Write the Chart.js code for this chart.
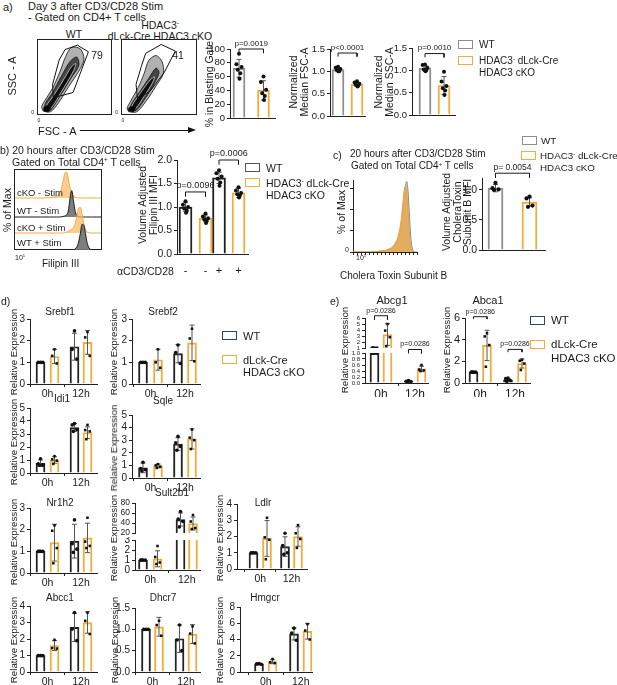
<!DOCTYPE html>
<html>
<head>
<meta charset="utf-8">
<script src="https://cdn.jsdelivr.net/npm/chart.js@4.4.1/dist/chart.umd.min.js"></script>
<style>
  body { margin: 0; background: #fff; }
  #fig { position: relative; width: 617px; height: 685px; overflow: hidden; font-family: "Liberation Sans", Arial, sans-serif; color: #1a1a1a; }
  .t { position: absolute; white-space: nowrap; line-height: 1; }
  canvas { position: absolute; }
  .box { position: absolute; box-sizing: border-box; }
  sup { font-size: 0.6em; vertical-align: 0.55em; line-height: 0; }
</style>
</head>
<body>
<div id="fig"></div>
<script>
// ---------- data ----------
// a) day 3, CD4 T cells
const aGroups = ['WT', 'HDAC3 cKO'];
const gatePct = ['79', '41'];
const blastMean = [72, 40];
const blastSd = [13, 14];
const blastPts = [[93, 78, 74, 70, 65, 57], [60, 52, 41, 36, 32, 26]];
const fscMean = [1.04, 0.71];
const fscSd = [0.05, 0.04];
const fscPts = [[1.10, 1.08, 1.05, 1.03, 1.00, 1.00], [0.78, 0.75, 0.72, 0.70, 0.68, 0.66]];
const sscMean = [1.05, 0.66];
const sscSd = [0.06, 0.20];
const sscPts = [[1.13, 1.12, 1.06, 1.02, 1.00, 0.98], [0.97, 0.75, 0.65, 0.60, 0.55, 0.45]];

// contour plots (FSC-A x, SSC-A y, 0-100 of the plot)
const wtGate = [[37, 87], [54, 93], [69, 84], [48, 29], [21, 22], [20, 40], [29, 73], [37, 87]];
const koGate = [[32, 82], [53, 94], [72, 85], [57, 56], [38, 31], [21, 20], [19, 40], [26, 64], [32, 82]];
const wtContours = [
  [[7, 4], [17, 3], [28, 15], [42, 37], [56, 58], [63, 74], [58, 88], [46, 90], [38, 78], [30, 57], [20, 35], [10, 19], [5, 10], [7, 4]],
  [[9, 5], [17, 5], [30, 24], [45, 48], [56, 66], [53, 77], [44, 71], [32, 51], [20, 29], [10, 14], [9, 5]],
  [[11, 6], [18, 8], [32, 30], [47, 55], [52, 68], [46, 64], [33, 43], [20, 23], [12, 12], [11, 6]],
  [[8, 4], [14, 3], [17, 8], [13, 11], [8, 9], [8, 4]]
];
const koContours = [
  [[9, 3], [20, 3], [33, 18], [46, 38], [56, 55], [54, 71], [46, 79], [36, 72], [30, 55], [22, 36], [12, 18], [7, 8], [9, 3]],
  [[10, 5], [19, 5], [32, 22], [44, 42], [50, 56], [46, 62], [36, 48], [24, 30], [13, 14], [10, 5]],
  [[11, 6], [18, 7], [30, 24], [40, 40], [44, 50], [38, 46], [26, 30], [15, 14], [11, 6]],
  [[9, 4], [15, 3], [18, 8], [13, 10], [9, 8], [9, 4]]
];

// b) Filipin III histograms (% of max) and MFI bars
const filipinX = [0, 30, 40, 45, 48, 50, 52, 54, 56, 58, 60, 62, 64, 66, 68, 70, 72, 74, 76, 78, 80, 82, 84, 86, 88, 90, 95, 100];
const filipinRows = ['cKO - Stim', 'WT - Stim', 'cKO + Stim', 'WT + Stim'];
const koMinus = [0, 0, 1, 3, 6, 10, 18, 35, 65, 92, 96, 70, 38, 18, 8, 3, 1, 0, 0, 0, 0, 0, 0, 0, 0, 0, 0, 0];
const wtMinus = [0, 0, 0, 0, 0, 0, 0, 1, 2, 4, 8, 22, 70, 98, 60, 20, 6, 2, 0, 0, 0, 0, 0, 0, 0, 0, 0, 0];
const koPlus = [0, 0, 0, 0, 0, 0, 0, 0, 0, 1, 3, 6, 10, 14, 20, 35, 62, 92, 95, 70, 35, 12, 4, 1, 0, 0, 0, 0];
const wtPlus = [0, 0, 0, 0, 0, 0, 0, 0, 0, 0, 0, 0, 0, 0, 1, 4, 12, 30, 62, 95, 92, 60, 25, 8, 2, 0, 0, 0];
const filipinStim = ['-', '-', '+', '+'];
const filipinMean = [1.00, 0.76, 1.62, 1.30];
const filipinSd = [0.09, 0.07, 0.12, 0.10];
const filipinPts = [[1.12, 1.05, 1.00, 0.97, 0.92, 0.88], [0.86, 0.80, 0.76, 0.74, 0.70, 0.66],
                    [1.78, 1.72, 1.65, 1.60, 1.52, 1.45], [1.42, 1.35, 1.30, 1.27, 1.24, 1.20]];

// c) Cholera toxin B
const ctbX = [0, 30, 40, 50, 55, 60, 64, 68, 70, 72, 74, 76, 78, 80, 82, 84, 86, 88, 90, 92, 94, 96, 100];
const ctbWT = [0, 0, 1, 2, 3, 5, 8, 13, 17, 23, 31, 42, 58, 76, 94, 100, 86, 56, 24, 8, 2, 0, 0];
const ctbKO = [0, 0, 1, 2, 4, 6, 10, 16, 21, 28, 38, 52, 70, 88, 93, 84, 58, 28, 9, 3, 1, 0, 0];
const ctbMean = [1.03, 0.80];
const ctbSd = [0.06, 0.07];
const ctbPts = [[1.12, 1.03, 1.01, 1.00], [0.89, 0.86, 0.74, 0.72]];

// d, e) qPCR, bar order: WT 0h, cKO 0h, WT 12h, cKO 12h
const times = ['0h', '12h'];
const srebf1Mean = [1.0, 1.27, 1.72, 1.92], srebf1Sd = [0, 0.33, 0.62, 0.55];
const srebf1Pts = [[1, 1, 1], [1.6, 1.3, 0.95], [2.45, 1.6, 1.15], [2.4, 2.15, 1.3]];
const srebf2Mean = [1.0, 1.12, 1.40, 1.90], srebf2Sd = [0, 0.48, 0.42, 0.82];
const srebf2Pts = [[1, 1, 1], [1.6, 1.0, 0.75], [1.8, 1.45, 0.95], [2.55, 2.1, 1.05]];
const idi1Mean = [0.75, 1.0, 3.5, 3.1], idi1Sd = [0.25, 0.25, 0.3, 0.45];
const idi1Pts = [[1.1, 0.7, 0.6, 0.6], [1.3, 1.05, 0.95, 0.7], [3.8, 3.7, 3.35, 3.2], [3.7, 3.3, 3.2, 2.6]];
const sqleMean = [0.8, 0.95, 2.7, 3.1], sqleSd = [0.38, 0.15, 0.5, 0.8];
const sqlePts = [[1.25, 0.75, 0.65, 0.55], [1.1, 1.0, 0.9, 0.8], [3.3, 2.8, 2.5, 2.2], [3.85, 3.2, 3.0, 2.3]];
const nr1h2Mean = [1.0, 1.4, 1.47, 1.62], nr1h2Sd = [0, 0.85, 0.78, 0.68];
const nr1h2Pts = [[1, 1, 1, 1], [2.2, 1.95, 1.15, 0.45], [2.45, 1.35, 1.1, 0.95], [2.55, 1.45, 1.25, 1.15]];
const sult2b1Mean = [1.0, 1.12, 47, 39], sult2b1Sd = [0, 0.8, 13, 13];
const sult2b1Pts = [[1, 1, 1, 1], [2.4, 1.3, 0.75, 0.6], [63, 48, 43, 32], [56, 43, 30, 28]];
const ldlrMean = [1.0, 1.88, 1.38, 2.0], ldlrSd = [0, 1.1, 0.6, 0.6];
const ldlrPts = [[1, 1, 1, 1], [3.15, 1.95, 1.8, 0.6], [2.2, 1.45, 1.0, 0.9], [2.7, 2.2, 1.85, 1.3]];
const abcc1Mean = [1.0, 1.6, 2.7, 3.0], abcc1Sd = [0, 0.3, 0.85, 0.65];
const abcc1Pts = [[1, 1, 1], [1.95, 1.45, 1.42], [3.6, 2.6, 1.9], [3.6, 3.1, 2.3]];
const dhcr7Mean = [1.0, 1.06, 0.78, 0.89], dhcr7Sd = [0, 0.22, 0.32, 0.22];
const dhcr7Pts = [[1, 1, 1], [1.2, 1.1, 0.85], [1.1, 0.75, 0.5], [1.07, 0.9, 0.67]];
const hmgcrMean = [1.0, 1.27, 4.7, 5.0], hmgcrSd = [0, 0.25, 0.75, 0.95];
const hmgcrPts = [[1.05, 1.0, 0.95], [1.6, 1.2, 1.1], [5.4, 4.8, 3.9], [5.9, 5.1, 4.0]];
const abcg1Mean = [1.0, 3.25, 0.06, 0.47], abcg1Sd = [0, 1.8, 0.02, 0.09];
const abcg1Pts = [[1, 1, 1, 1], [5.0, 3.9, 2.8, 1.3], [0.08, 0.06, 0.05, 0.04], [0.6, 0.45, 0.42, 0.4]];
const abca1Mean = [1.0, 3.47, 0.3, 1.8], abca1Sd = [0, 1.4, 0.12, 0.42];
const abca1Pts = [[1, 1, 1, 1], [4.6, 4.3, 3.5, 1.5], [0.45, 0.4, 0.22, 0.15], [2.15, 2.05, 1.8, 1.2]];
const pQpcr = ['p=0.0286', 'p=0.0286'];

// ---------- setup ----------
const FONT = '"Liberation Sans", Arial, sans-serif';
Chart.defaults.font.family = FONT;
Chart.defaults.font.size = 9;
Chart.defaults.color = '#1a1a1a';
Chart.defaults.animation = false;
Chart.defaults.responsive = false;
Chart.defaults.events = [];
Chart.defaults.plugins.legend.display = false;
Chart.defaults.plugins.tooltip.enabled = false;

const fig = document.getElementById('fig');
const GRAY = '#8e8e8e', ORANGE = '#f3ab3a', BLACK = '#222', NAVY = '#33455c';

function text(html, x, y, o = {}) {
  const d = document.createElement('div');
  d.className = 't';
  d.innerHTML = html;
  d.style.left = x + 'px';
  d.style.top = y + 'px';
  d.style.fontSize = (o.size || 10) + 'px';
  if (o.rot) {
    d.style.transform = 'translate(-50%,-50%) rotate(-90deg)';
    d.style.textAlign = 'center';
  } else {
    const ax = o.align === 'c' ? '-50%' : o.align === 'r' ? '-100%' : '0';
    d.style.transform = 'translate(' + ax + ',-50%)';
  }
  fig.appendChild(d);
}

function box(x, y, w, h, border) {
  const d = document.createElement('div');
  d.className = 'box';
  Object.assign(d.style, { left: x + 'px', top: y + 'px', width: w + 'px', height: h + 'px', border: border });
  fig.appendChild(d);
  return d;
}

function canvasAt(x, y, w, h) {
  const c = document.createElement('canvas');
  c.width = w; c.height = h;
  Object.assign(c.style, { left: x + 'px', top: y + 'px', width: w + 'px', height: h + 'px' });
  fig.appendChild(c);
  return c;
}

// p-value labels above the brackets
const pText = {
  id: 'pText',
  afterDatasetsDraw(chart, args, opts) {
    const ctx = chart.ctx, xs = chart.scales.x, ys = chart.scales.y;
    ctx.save();
    ctx.font = (opts.size || 8) + 'px ' + FONT;
    ctx.fillStyle = '#1a1a1a';
    ctx.textAlign = 'center';
    ctx.textBaseline = 'bottom';
    (opts.items || []).forEach(b => {
      ctx.fillText(b.text, xs.getPixelForValue((b.x1 + b.x2) / 2), ys.getPixelForValue(b.y) - 1.5);
    });
    ctx.restore();
  }
};

// bar + dots + SD + brackets; x units are pixels from the y axis
function barPanel(o) {
  const yw = o.yw || 22, xh = o.noX ? 0 : (o.xh || 14);
  const padTop = o.padTop ?? 5, padRight = 5, padBottom = o.padBottom || 0;
  const plotW = o.right - o.axisX, plotH = o.bottom - o.top;
  const cv = canvasAt(o.axisX - yw, o.top - padTop, yw + plotW + padRight, padTop + plotH + xh + padBottom);
  const pat = [0, -1, 1, -0.5, 0.5, 0.2];
  const ds = [];
  o.mean.forEach((m, i) => {
    const x = o.xs[i], col = o.colors[i % 2];
    if (m > o.min) {
      ds.push({ type: 'bar', data: [{ x, y: m }], backgroundColor: 'rgba(255,255,255,0)', borderColor: col,
        borderWidth: 1.3, grouped: false, barPercentage: 1, categoryPercentage: 1, maxBarThickness: o.bw, order: 3 });
    }
    if (o.sd[i]) {
      ds.push({ type: 'line', data: [{ x, y: m - o.sd[i] }, { x, y: m + o.sd[i] }], borderColor: '#555', borderWidth: 1,
        pointStyle: 'line', pointRadius: o.cap || 2.5, pointBorderColor: '#555', pointBorderWidth: 1, order: 2 });
    }
    ds.push({ type: 'scatter', data: o.pts[i].map((v, k) => ({ x: x + pat[k] * (o.jit || 2.2), y: v })),
      pointStyle: o.square && i % 2 ? 'rect' : 'circle', pointRadius: o.dot || 1.8,
      pointBackgroundColor: '#111', pointBorderWidth: 0, order: 1 });
  });
  const items = (o.brackets || []).map(b => ({ x1: o.xs[b.a], x2: o.xs[b.b], y: b.y, leg: b.leg, text: b.text }));
  items.forEach(b => ds.push({ type: 'line', data: [{ x: b.x1, y: b.leg }, { x: b.x1, y: b.y }, { x: b.x2, y: b.y }, { x: b.x2, y: b.leg }],
    borderColor: '#1a1a1a', borderWidth: 1, pointRadius: 0, clip: false, order: 0 }));
  const xt = o.xt || [];
  new Chart(cv, {
    type: 'bar',
    data: { datasets: ds },
    options: {
      layout: { padding: { top: padTop, right: padRight, bottom: padBottom, left: 0 }, autoPadding: false },
      scales: {
        x: {
          type: 'linear', display: !o.noX, min: 0, max: plotW, offset: false,
          grid: { display: true, drawOnChartArea: false, drawTicks: o.xMarks !== false, tickLength: 3, color: BLACK },
          border: { color: BLACK, width: 1 },
          afterBuildTicks: s => { s.ticks = xt.map(t => ({ value: t.x })); },
          ticks: { autoSkip: false, maxRotation: 0, padding: o.xpad ?? 1, font: { size: o.xf || 10 }, color: '#1a1a1a',
            callback: (v, i) => xt[i] ? xt[i].label : '' },
          afterFit: s => { s.height = xh; s.paddingLeft = 0; s.paddingRight = 0; }
        },
        y: {
          type: 'linear', min: o.min, max: o.max,
          grid: { display: true, drawOnChartArea: false, tickLength: 3, color: BLACK },
          border: { color: BLACK, width: 1 },
          ticks: { stepSize: o.step, includeBounds: false, autoSkip: false, padding: 2, font: { size: o.tf || 9.5 }, color: '#1a1a1a',
            callback: v => o.dec ? v.toFixed(o.dec) : String(v) },
          afterFit: s => { s.width = yw; s.paddingTop = 0; s.paddingBottom = 0; }
        }
      },
      plugins: { pText: { items, size: o.pf || 8 } }
    },
    plugins: [pText]
  });
}

function contourPlot(x, y, w, h, layers, gate) {
  box(x, y, w, h, '1px solid #222');
  const cv = canvasAt(x + 1, y + 1, w - 2, h - 2);
  const fills = ['rgba(50,50,50,0.38)', 'rgba(25,25,25,0.7)', 'rgba(10,10,10,0.9)', 'rgba(0,0,0,0.95)'];
  const ds = layers.map((L, i) => ({
    data: L.map(p => ({ x: p[0], y: p[1] })), showLine: true, fill: 'shape', backgroundColor: fills[i],
    borderColor: i === 2 ? '#ccc' : '#111', borderWidth: 0.8, pointRadius: 0, tension: 0.3, order: layers.length - i + 1
  }));
  ds.push({ data: gate.map(p => ({ x: p[0], y: p[1] })), showLine: true, fill: false, borderColor: '#111',
    borderWidth: 1, pointRadius: 0, tension: 0, order: 0 });
  new Chart(cv, {
    type: 'scatter', data: { datasets: ds },
    options: { layout: { padding: 0, autoPadding: false },
      scales: { x: { display: false, min: 0, max: 100 }, y: { display: false, min: 0, max: 100 } } }
  });
}

function legend(x, y, col, lines, o = {}) {
  box(x, y, 15, 9, '1.5px solid ' + col);
  lines.forEach((s, i) => text(s, x + (o.gap || 21), y + 4.5 + i * (o.dy || 12), { size: o.size || 10.5 }));
}

// ---------- panel a ----------
text('a)', 3, 7, { size: 11 });
text('Day 3 after CD3/CD28 Stim', 28, 6, { size: 11 });
text('- Gated on CD4+ T cells', 28, 17, { size: 11 });
text('WT', 74, 34, { size: 10.5, align: 'c' });
text('HDAC3<sup>-</sup>', 160, 25, { size: 10.5, align: 'c' });
text('dLck-Cre HDAC3 cKO', 160, 35.5, { size: 10.5, align: 'c' });
contourPlot(37, 39, 75, 76, wtContours, wtGate);
contourPlot(121, 39, 76, 76, koContours, koGate);
text(gatePct[0], 97, 55, { size: 10.5, align: 'c' });
text(gatePct[1], 178, 55, { size: 10.5, align: 'c' });
text('0', 34, 112, { size: 5, align: 'r' });
text('0', 39, 120, { size: 5, align: 'c' });
text('0', 118, 112, { size: 5, align: 'r' });
text('0', 123, 120, { size: 5, align: 'c' });
text('SSC - A', 12, 76, { size: 11, rot: true });
text('FSC - A', 38, 131, { size: 11 });
box(80, 130, 108, 1, 'none').style.background = '#111';
Object.assign(box(188, 127, 0, 0, 'none').style, { borderLeft: '8px solid #111', borderTop: '3.5px solid transparent', borderBottom: '3.5px solid transparent' });

barPanel({ axisX: 230, top: 49, bottom: 118, right: 275, min: 0, max: 100, step: 20, xs: [9, 33.5], bw: 12, jit: 2.6,
  mean: blastMean, sd: blastSd, pts: blastPts, colors: [GRAY, ORANGE], padTop: 16, xh: 3, dot: 2,
  brackets: [{ a: 0, b: 1, y: 100, leg: 94, text: 'p=0.0019' }] });
text('% in Blasting Gate', 209, 84, { size: 10.5, rot: true });
barPanel({ axisX: 330, top: 49, bottom: 116, right: 365, min: 0, max: 1.5, step: 0.5, dec: 1, xs: [8, 27], bw: 12, jit: 2.4,
  mean: fscMean, sd: fscSd, pts: fscPts, colors: [GRAY, ORANGE], padTop: 16, xh: 3, dot: 2,
  brackets: [{ a: 0, b: 1, y: 1.41, leg: 1.33, text: 'p<0.0001' }] });
text('Normalized<br>Median FSC-A', 298, 82, { size: 10.5, rot: true });
barPanel({ axisX: 412, top: 48, bottom: 115, right: 455, min: 0, max: 1.5, step: 0.5, dec: 1, xs: [13, 32], bw: 12, jit: 2.4,
  mean: sscMean, sd: sscSd, pts: sscPts, colors: [GRAY, ORANGE], padTop: 16, xh: 3, dot: 2,
  brackets: [{ a: 0, b: 1, y: 1.375, leg: 1.29, text: 'p=0.0010' }] });
text('Normalized<br>Median SSC-A', 383, 82, { size: 10.5, rot: true });
legend(458, 40, GRAY, ['WT'], { size: 10 });
legend(458, 56, ORANGE, ['HDAC3<sup>-</sup> dLck-Cre', 'HDAC3 cKO'], { size: 10 });

// ---------- panel b ----------
text('b) 20 hours after CD3/CD28 Stim', 0, 150, { size: 10.5 });
text('Gated on Total CD4<sup>+</sup> T cells', 12, 162, { size: 10.5 });
(function () {
  const x = 14, y = 169, w = 88, h = 81, peakPx = 27;
  const baselines = [29, 48, 64, 81];
  const curves = [koMinus, wtMinus, koPlus, wtPlus];
  box(x, y, w, h, '1px solid #222');
  const cv = canvasAt(x + 1, y, w - 2, h);
  const scales = { x: { type: 'linear', display: false, min: 0, max: 100 } };
  const ds = curves.map((c, k) => {
    const id = 'y' + k, base = baselines[k];
    scales[id] = { type: 'linear', display: false, min: -(h - base) * 100 / peakPx, max: base * 100 / peakPx };
    const ko = k % 2 === 0;
    return { data: filipinX.map((xv, i) => ({ x: xv, y: c[i] })), yAxisID: id, fill: 'origin',
      borderColor: ko ? ORANGE : '#1a1a1a', backgroundColor: ko ? 'rgba(246,186,100,0.72)' : 'rgba(115,115,115,0.92)',
      borderWidth: 1, pointRadius: 0, cubicInterpolationMode: 'monotone', order: 3 - k };
  });
  new Chart(cv, { type: 'line', data: { datasets: ds },
    options: { layout: { padding: 0, autoPadding: false }, scales } });
  const ly = [193, 211, 228, 243];
  filipinRows.forEach((s, k) => text(s, x + 3, ly[k], { size: 9.5 }));
})();
text('% of Max', 7, 210, { size: 10.5, rot: true });
text('10<sup>1</sup>', 15, 257, { size: 7 });
text('Filipin III', 42, 264, { size: 10 });

barPanel({ axisX: 177, top: 160, bottom: 254, right: 248, min: 0, max: 2, step: 0.5, dec: 1, xs: [8.5, 28.5, 42, 61.5], bw: 13, jit: 2.6,
  mean: filipinMean, sd: filipinSd, pts: filipinPts, colors: [BLACK, ORANGE], padTop: 16, xh: 24, xpad: 10, xf: 11, xMarks: false,
  pf: 9, tf: 10.5, dot: 2,
  xt: filipinStim.map((s, i) => ({ x: [8.5, 28.5, 42, 61.5][i], label: s })),
  brackets: [{ a: 0, b: 1, y: 1.32, leg: 1.22, text: 'p=0.0096' }, { a: 2, b: 3, y: 2.0, leg: 1.9, text: 'p=0.0006' }] });
text('Volume Adjusted<br>Filipin III MFI', 147, 205, { size: 10.5, rot: true });
text('αCD3/CD28', 117, 271, { size: 10.5 });
legend(245, 163, '#555', ['WT'], { size: 10.5 });
legend(245, 178, ORANGE, ['HDAC3<sup>-</sup> dLck-Cre', 'HDAC3 cKO'], { size: 10.5 });

// ---------- panel c ----------
text('c)', 333, 155, { size: 10.5 });
text('20 hours after CD3/CD28 Stim', 350, 154, { size: 10 });
text('Gated on Total CD4<sup>+</sup> T cells', 351, 166, { size: 10 });
(function () {
  const cv = canvasAt(349, 178, 4 + 64 + 2, 2 + 72 + 4);
  const mk = (vals, col, fillCol, ord) => ({ data: ctbX.map((xv, i) => ({ x: xv, y: vals[i] })), fill: 'origin',
    borderColor: col, backgroundColor: fillCol, borderWidth: 1, pointRadius: 0, cubicInterpolationMode: 'monotone', order: ord });
  new Chart(cv, { type: 'line',
    data: { datasets: [mk(ctbKO, '#e9a640', 'rgba(230,168,80,0.88)', 0), mk(ctbWT, '#8a8a8a', 'rgba(190,190,190,0.8)', 1)] },
    options: { layout: { padding: { top: 2, right: 2, left: 0, bottom: 0 }, autoPadding: false },
      scales: {
        x: { type: 'linear', min: 0, max: 100, grid: { drawOnChartArea: false, tickLength: 3, color: BLACK }, border: { color: BLACK },
          ticks: { stepSize: 6.25, callback: () => '' }, afterFit: s => { s.height = 4; s.paddingLeft = 0; s.paddingRight = 0; } },
        y: { min: 0, max: 102, grid: { drawOnChartArea: false, tickLength: 3, color: BLACK }, border: { color: BLACK },
          ticks: { stepSize: 10, callback: () => '' }, afterFit: s => { s.width = 4; s.paddingTop = 0; s.paddingBottom = 0; } }
      } } });
})();
text('0', 349, 249, { size: 7, align: 'r' });
text('10<sup>1</sup>', 356, 257, { size: 7 });
text('% of Max', 341, 212, { size: 10.5, rot: true });
text('Cholera Toxin Subunit B', 340, 276, { size: 10 });
barPanel({ axisX: 482, top: 178, bottom: 250, right: 545, min: 0, max: 1.2, step: 0.5, dec: 1, xs: [13.5, 47.5], bw: 15, jit: 3,
  mean: ctbMean, sd: ctbSd, pts: ctbPts, colors: [GRAY, ORANGE], padTop: 16, xh: 3, pf: 8.5, tf: 10.5, dot: 2.1,
  brackets: [{ a: 0, b: 1, y: 1.28, leg: 1.2, text: 'p= 0.0054' }] });
text('Volume Adjusted<br>CholeraToxin<br>Subunit B MFI', 457, 212, { size: 10.5, rot: true });
legend(522, 136, GRAY, ['WT'], { size: 9.8, gap: 19 });
legend(521, 151, ORANGE, ['HDAC3<sup>-</sup> dLck-Cre', 'HDAC3 cKO'], { size: 9.8, gap: 19 });

// ---------- panels d, e ----------
text('d)', 1, 301, { size: 10.5 });
text('e)', 330, 301, { size: 10.5 });

function gene(name, mean, sd, pts, L) {
  const xt = [{ x: (L.xs[0] + L.xs[1]) / 2, label: times[0] }, { x: (L.xs[2] + L.xs[3]) / 2, label: times[1] }];
  const base = { xs: L.xs, bw: 9, jit: 2.3, colors: [BLACK, ORANGE], square: true, mean, sd, pts, xf: L.xf || 10.5 };
  if (L.split) {
    const s = L.split;
    barPanel(Object.assign({}, base, { axisX: L.axisX, top: s.top, bottom: s.bottom, right: L.right, min: s.min, max: s.max,
      step: s.step, tf: s.tf, noX: true, padTop: s.padTop || 5, padBottom: s.padBottom || 2, brackets: s.brackets, pf: L.pf }));
    barPanel(Object.assign({}, base, { axisX: L.axisX, top: L.top, bottom: L.bottom, right: L.right, min: L.min, max: L.max,
      step: L.step, dec: L.dec, tf: L.tf || 10, xt, padTop: 3 }));
  } else {
    barPanel(Object.assign({}, base, { axisX: L.axisX, top: L.top, bottom: L.bottom, right: L.right, min: L.min, max: L.max,
      step: L.step, dec: L.dec, tf: L.tf || 10, xt, padTop: L.padTop || 5, brackets: L.brackets, pf: L.pf }));
  }
  text(name, L.tx, L.ty, { size: L.ts || 10, align: 'c' });
  text('Relative Expression', L.lx, L.ly, { size: 9.8, rot: true });
}

const col1 = [10.5, 24.5, 44.5, 57.5];
gene('Srebf1', srebf1Mean, srebf1Sd, srebf1Pts, { axisX: 30, top: 319, bottom: 384, right: 97, min: 0, max: 3, step: 1, xs: col1, tx: 60, ty: 312, lx: 14, ly: 352 });
gene('Srebf2', srebf2Mean, srebf2Sd, srebf2Pts, { axisX: 132, top: 319, bottom: 384, right: 200, min: 0, max: 3, step: 1, xs: [11, 26, 46, 60], tx: 163, ty: 312, lx: 114, ly: 352 });
gene('Idi1', idi1Mean, idi1Sd, idi1Pts, { axisX: 30, top: 408, bottom: 473, right: 97, min: 0, max: 5, step: 1, xs: col1, tx: 62, ty: 399, lx: 14, ly: 442 });
gene('Sqle', sqleMean, sqleSd, sqlePts, { axisX: 132, top: 415, bottom: 478, right: 200, min: 0, max: 5, step: 1, xs: [11, 26, 46, 60], tx: 163, ty: 401, lx: 114, ly: 448 });
gene('Nr1h2', nr1h2Mean, nr1h2Sd, nr1h2Pts, { axisX: 30, top: 508, bottom: 573, right: 97, min: 0, max: 3, step: 1, xs: col1, tx: 60, ty: 503, lx: 14, ly: 542 });
gene('Sult2b1', sult2b1Mean, sult2b1Sd, sult2b1Pts, { axisX: 135, top: 540, bottom: 570, right: 200, min: 0, max: 3, step: 1, xs: [8, 22.5, 45.5, 58],
  split: { top: 503, bottom: 533, min: 20, max: 80, step: 20, tf: 8.5 }, tx: 172, ty: 493, lx: 114, ly: 538 });
gene('Ldlr', ldlrMean, ldlrSd, ldlrPts, { axisX: 237, top: 504, bottom: 569, right: 307, min: 0, max: 4, step: 1, xs: [16.5, 30, 48, 61], tx: 263, ty: 503, lx: 220, ly: 538 });
gene('Abcc1', abcc1Mean, abcc1Sd, abcc1Pts, { axisX: 30, top: 606, bottom: 672, right: 97, min: 0, max: 4, step: 1, xs: col1, tx: 60, ty: 598, lx: 14, ly: 640 });
gene('Dhcr7', dhcr7Mean, dhcr7Sd, dhcr7Pts, { axisX: 135, top: 608, bottom: 672, right: 200, min: 0, max: 1.5, step: 0.5, dec: 1, xs: [11, 24, 44.5, 57.5], tx: 163, ty: 598, lx: 115, ly: 640 });
gene('Hmgcr', hmgcrMean, hmgcrSd, hmgcrPts, { axisX: 240, top: 607, bottom: 672, right: 312, min: 0, max: 8, step: 2, xs: [19, 32.5, 54, 67.5], tx: 265, ty: 598, lx: 220, ly: 640 });
legend(222, 331, NAVY, ['WT'], { size: 11 });
legend(222, 355, ORANGE, ['dLck-Cre', 'HDAC3 cKO'], { size: 11 });

gene('Abcg1', abcg1Mean, abcg1Sd, abcg1Pts, { axisX: 365, top: 353, bottom: 383, right: 428, min: 0, max: 1, step: 0.2, dec: 1, tf: 6, xf: 12,
  xs: [9.5, 22.5, 43.5, 56.5], pf: 7, ts: 11,
  split: { top: 318, bottom: 348, min: 1, max: 6, step: 1, tf: 6, padTop: 16, padBottom: 8,
    brackets: [{ a: 0, b: 1, y: 6.38, leg: 5.67, text: pQpcr[0] }, { a: 2, b: 3, y: 0.75, leg: 0.1, text: pQpcr[1] }] },
  tx: 392, ty: 300, lx: 345, ly: 350 });
gene('Abca1', abca1Mean, abca1Sd, abca1Pts, { axisX: 465, top: 318, bottom: 383, right: 530, min: 0, max: 6, step: 2, xf: 12, tf: 11,
  xs: [8.5, 22, 43, 57], pf: 7, padTop: 16, ts: 11,
  brackets: [{ a: 0, b: 1, y: 6.12, leg: 5.9, text: pQpcr[0] }, { a: 2, b: 3, y: 3.1, leg: 2.85, text: pQpcr[1] }],
  tx: 488, ty: 300, lx: 447, ly: 350 });
legend(530, 316, NAVY, ['WT'], { size: 11.5 });
legend(530, 340, ORANGE, ['dLck-Cre', 'HDAC3 cKO'], { size: 11.5, dy: 14 });
</script>
</body>
</html>
